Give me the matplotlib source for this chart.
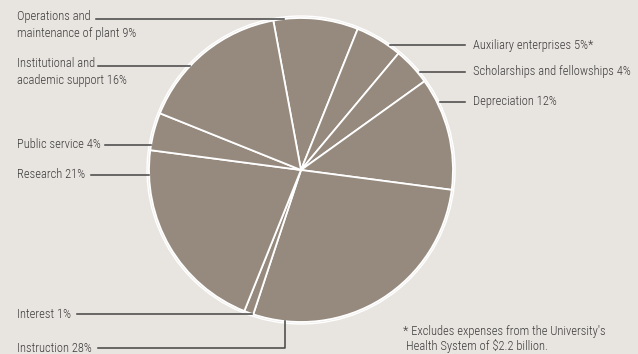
import numpy as np
import matplotlib.pyplot as plt

# slices, clockwise from the top
labels = ['Operations and\nmaintenance of plant 9%', 'Auxiliary enterprises 5%*',
          'Scholarships and fellowships 4%', 'Depreciation 12%', 'Instruction 28%',
          'Interest 1%', 'Research 21%', 'Public service 4%',
          'Institutional and\nacademic support 16%']
shares = [9, 5, 4, 12, 28, 1, 21, 4, 16]
footnote = ["* Excludes expenses from the University's", "Health System of $2.2 billion."]

W, H = 638, 354
bg = '#e8e4e0'
pie_col = '#968a7e'
txt_col = '#3c3c3c'
line_col = '#444444'
font = ['Roboto Condensed', 'DejaVu Sans']
fs = 9.0
tkw = dict(fontsize=fs, color=txt_col, family=font, weight='light')

cx, cy, r = 301, H - 170, 152

fig = plt.figure(figsize=(W / 100, H / 100), dpi=100, facecolor=bg)
ax = fig.add_axes([0, 0, 1, 1])
ax.set_facecolor(bg)

ax.pie(shares, center=(cx, cy), radius=r, startangle=100.5, counterclock=False,
       colors=[pie_col] * len(shares),
       wedgeprops=dict(edgecolor='white', linewidth=1.3))
ax.add_patch(plt.Circle((cx, cy), r + 2, fill=False, ec='white', lw=1.0))
ax.set_xlim(0, W)
ax.set_ylim(0, H)
ax.set_aspect('equal')
ax.axis('off')


def edge_x(y, side):
    dy = y - cy
    return cx + side * np.sqrt(max(r * r - dy * dy, 0))


# left labels: leader row (pixels from top) and where the line starts
left_rows = {0: 19, 8: 66, 7: 145, 6: 175, 5: 314}
line_start = {0: 96, 8: 98, 7: 105, 6: 91, 5: 77}
for i, row in left_rows.items():
    y = H - row
    if '\n' in labels[i]:
        ax.text(17, y + 9, labels[i], ha='left', va='top', linespacing=1.4, **tkw)
    else:
        ax.text(17, y, labels[i], ha='left', va='center', **tkw)
    ax.plot([line_start[i], edge_x(y, -1)], [y, y], color=line_col, lw=1.1)

# instruction: elbow line
y_ins = H - 348
x_ins = 285
ax.text(17, y_ins, labels[4], ha='left', va='center', **tkw)
y_top = cy - np.sqrt(r * r - (x_ins - cx) ** 2)
ax.plot([98, x_ins, x_ins], [y_ins, y_ins, y_top], color=line_col, lw=1.1)

# right side labels
right_rows = {1: 45, 2: 72, 3: 102}
for i, row in right_rows.items():
    y = H - row
    ax.text(473, y, labels[i], ha='left', va='center', **tkw)
    ax.plot([edge_x(y, 1) + 3, 465], [y, y], color=line_col, lw=1.1)

ax.text(403, H - 331, footnote[0], ha='left', va='center', **tkw)
ax.text(406, H - 346, footnote[1], ha='left', va='center', **tkw)

fig.savefig('out.png', dpi=100, facecolor=bg)
